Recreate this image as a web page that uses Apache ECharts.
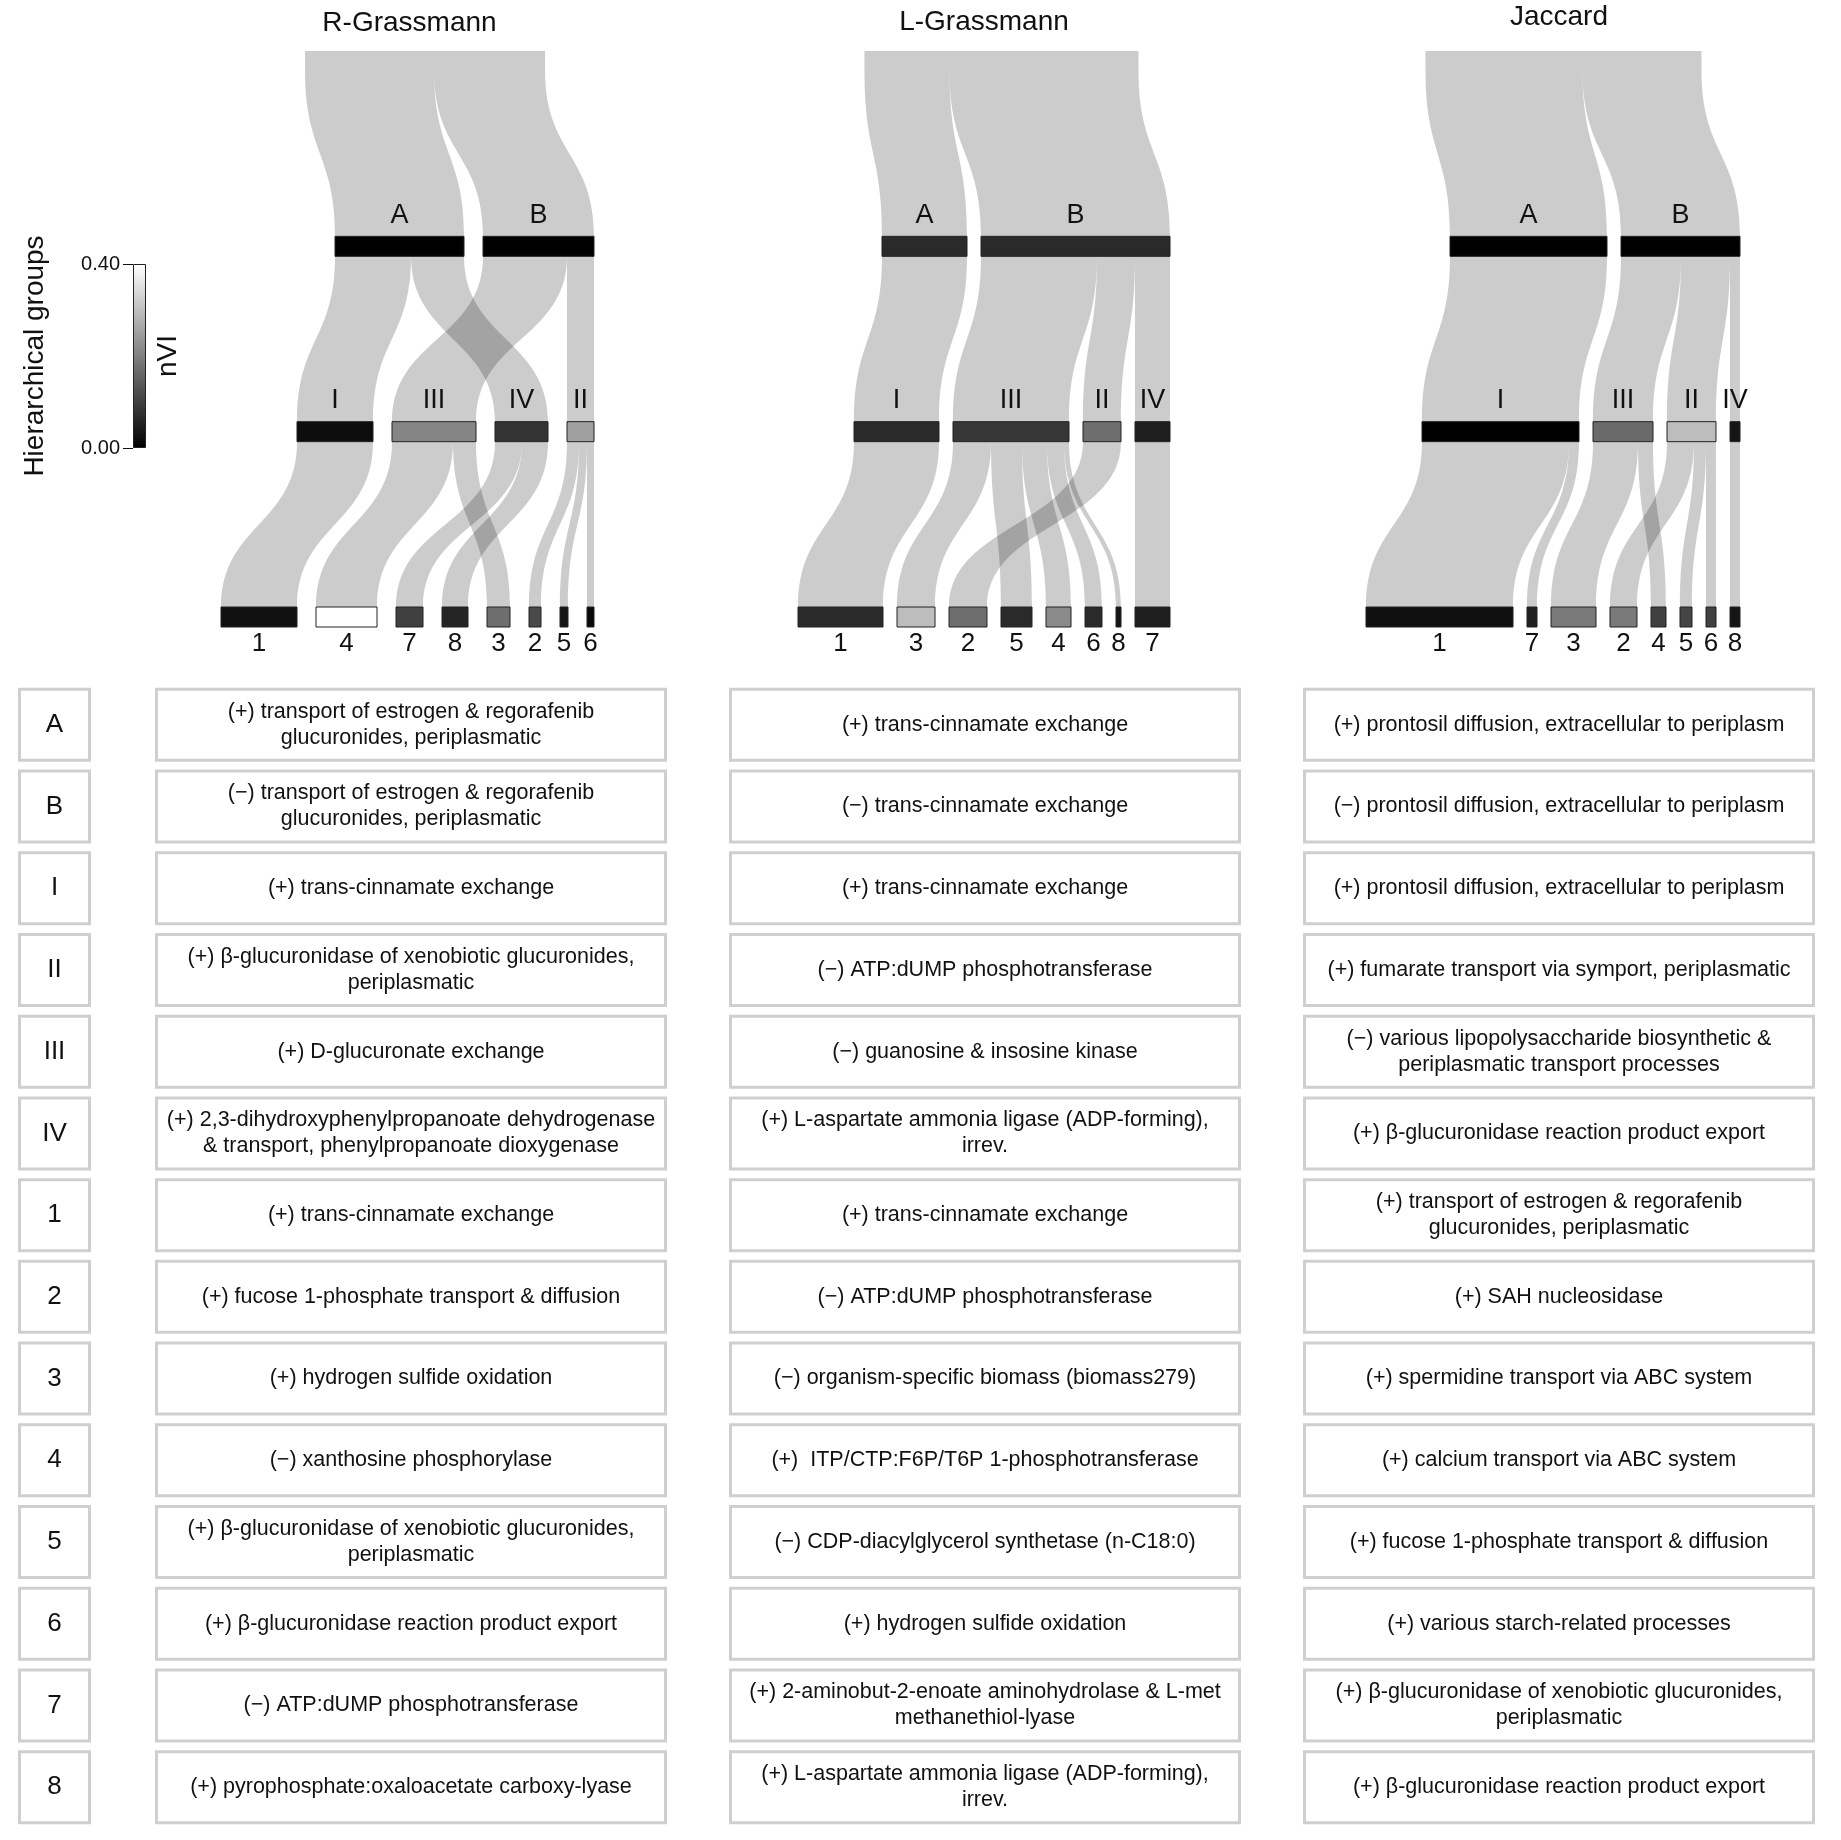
<!DOCTYPE html>
<html>
<head>
<meta charset="utf-8">
<script src="https://cdn.jsdelivr.net/npm/echarts@6/dist/echarts.min.js"></script>
<style>
html,body{margin:0;padding:0;background:#ffffff;}
#chart{width:1841px;height:1840px;}
</style>
</head>
<body>
<div id="chart"></div>
<script>
// ---------------- DATA ----------------
const panelTitles = ['R-Grassmann', 'L-Grassmann', 'Jaccard'];

// R-Grassmann
const rgLevel1 = ['A', 'B'];
const rgNVI1 = [0.000, 0.000];
const rgLevel2 = ['I', 'III', 'IV', 'II'];
const rgNVI2 = [0.020, 0.209, 0.080, 0.251];
const rgLevel3 = ['1', '4', '7', '8', '3', '2', '5', '6'];
const rgNVI3 = [0.027, 0.400, 0.100, 0.058, 0.173, 0.116, 0.033, 0.016];
const rgFlows12 = [['A', 'I', 76], ['A', 'IV', 53], ['B', 'III', 84], ['B', 'II', 27]];
const rgFlows23 = [['I', '1', 76], ['III', '4', 61], ['III', '3', 23], ['IV', '7', 27], ['IV', '8', 26], ['II', '2', 12], ['II', '5', 8], ['II', '6', 7]];

// L-Grassmann
const lgLevel1 = ['A', 'B'];
const lgNVI1 = [0.066, 0.066];
const lgLevel2 = ['I', 'III', 'II', 'IV'];
const lgNVI2 = [0.066, 0.085, 0.173, 0.047];
const lgLevel3 = ['1', '3', '2', '5', '4', '6', '8', '7'];
const lgNVI3 = [0.066, 0.296, 0.173, 0.066, 0.216, 0.066, 0.033, 0.047];
const lgFlows12 = [['A', 'I', 85], ['B', 'III', 116], ['B', 'II', 38], ['B', 'IV', 35]];
const lgFlows23 = [['I', '1', 85], ['III', '3', 38], ['III', '5', 31], ['III', '4', 25], ['III', '6', 17], ['III', '8', 5], ['II', '2', 38], ['IV', '7', 35]];

// Jaccard
const jcLevel1 = ['A', 'B'];
const jcNVI1 = [0.000, 0.000];
const jcLevel2 = ['I', 'III', 'II', 'IV'];
const jcNVI2 = [0.000, 0.166, 0.296, 0.031];
const jcLevel3 = ['1', '7', '3', '2', '4', '5', '6', '8'];
const jcNVI3 = [0.024, 0.050, 0.191, 0.191, 0.100, 0.108, 0.100, 0.033];
const jcFlows12 = [['A', 'I', 157], ['B', 'III', 60], ['B', 'II', 49], ['B', 'IV', 10]];
const jcFlows23 = [['I', '1', 147], ['I', '7', 10], ['III', '3', 45], ['III', '4', 15], ['II', '2', 27], ['II', '5', 12], ['II', '6', 10], ['IV', '8', 10]];

// colour scale (nVI)
const nviRange = [0.00, 0.40];
const colorbarTitle = 'nVI';
const sideTitle = 'Hierarchical groups';

// table
const rowLabels = ['A', 'B', 'I', 'II', 'III', 'IV', '1', '2', '3', '4', '5', '6', '7', '8'];
const rgDesc = [
  '(+) transport of estrogen & regorafenib\nglucuronides, periplasmatic',
  '(\u2212) transport of estrogen & regorafenib\nglucuronides, periplasmatic',
  '(+) trans-cinnamate exchange',
  '(+) \u03b2-glucuronidase of xenobiotic glucuronides,\nperiplasmatic',
  '(+) D-glucuronate exchange',
  '(+) 2,3-dihydroxyphenylpropanoate dehydrogenase\n& transport, phenylpropanoate dioxygenase',
  '(+) trans-cinnamate exchange',
  '(+) fucose 1-phosphate transport & diffusion',
  '(+) hydrogen sulfide oxidation',
  '(\u2212) xanthosine phosphorylase',
  '(+) \u03b2-glucuronidase of xenobiotic glucuronides,\nperiplasmatic',
  '(+) \u03b2-glucuronidase reaction product export',
  '(\u2212) ATP:dUMP phosphotransferase',
  '(+) pyrophosphate:oxaloacetate carboxy-lyase'
];
const lgDesc = [
  '(+) trans-cinnamate exchange',
  '(\u2212) trans-cinnamate exchange',
  '(+) trans-cinnamate exchange',
  '(\u2212) ATP:dUMP phosphotransferase',
  '(\u2212) guanosine & insosine kinase',
  '(+) L-aspartate ammonia ligase (ADP-forming),\nirrev.',
  '(+) trans-cinnamate exchange',
  '(\u2212) ATP:dUMP phosphotransferase',
  '(\u2212) organism-specific biomass (biomass279)',
  '(+)  ITP/CTP:F6P/T6P 1-phosphotransferase',
  '(\u2212) CDP-diacylglycerol synthetase (n-C18:0)',
  '(+) hydrogen sulfide oxidation',
  '(+) 2-aminobut-2-enoate aminohydrolase & L-met\nmethanethiol-lyase',
  '(+) L-aspartate ammonia ligase (ADP-forming),\nirrev.'
];
const jcDesc = [
  '(+) prontosil diffusion, extracellular to periplasm',
  '(\u2212) prontosil diffusion, extracellular to periplasm',
  '(+) prontosil diffusion, extracellular to periplasm',
  '(+) fumarate transport via symport, periplasmatic',
  '(\u2212) various lipopolysaccharide biosynthetic &\nperiplasmatic transport processes',
  '(+) \u03b2-glucuronidase reaction product export',
  '(+) transport of estrogen & regorafenib\nglucuronides, periplasmatic',
  '(+) SAH nucleosidase',
  '(+) spermidine transport via ABC system',
  '(+) calcium transport via ABC system',
  '(+) fucose 1-phosphate transport & diffusion',
  '(+) various starch-related processes',
  '(+) \u03b2-glucuronidase of xenobiotic glucuronides,\nperiplasmatic',
  '(+) \u03b2-glucuronidase reaction product export'
];

// ---------------- LAYOUT / STYLE ----------------
const FONT = '"Liberation Sans", Arial, Helvetica, sans-serif';
const NODE_T = 20;
const panels = [
  { level1: rgLevel1, nvi1: rgNVI1, level2: rgLevel2, nvi2: rgNVI2, level3: rgLevel3, nvi3: rgNVI3, flows12: rgFlows12, flows23: rgFlows23, gap: 19, rootFrac: 0.547, left: 221, titleDx: 2, titleTop: 9 },
  { level1: lgLevel1, nvi1: lgNVI1, level2: lgLevel2, nvi2: lgNVI2, level3: lgLevel3, nvi3: lgNVI3, flows12: lgFlows12, flows23: lgFlows23, gap: 14, rootFrac: 0.547, left: 798, titleDx: 0, titleTop: 8 },
  { level1: jcLevel1, nvi1: jcNVI1, level2: jcLevel2, nvi2: jcNVI2, level3: jcLevel3, nvi3: jcNVI3, flows12: jcFlows12, flows23: jcFlows23, gap: 14, rootFrac: 0.528, left: 1366, titleDx: 6, titleTop: 3 }
];
const SANKEY_TOP = 51, SANKEY_H = 556;
const COL_X = [0, 137, 711, 1285];
const COL_W = [73, 512, 512, 512];
const BOX_H = 74;

function layoutPanel(p) {
  const size = {};
  const add = (k, v) => { size[k] = (size[k] || 0) + v; };
  p.flows12.forEach(f => { add(f[0], f[2]); add(f[1], f[2]); });
  p.flows23.forEach(f => { add(f[1], f[2]); });
  const total = p.level1.reduce((a, n) => a + size[n], 0);
  const xmax = total + (p.level3.length - 1) * p.gap;
  const pos = {};
  const nodes = [];
  const rc = p.rootFrac * xmax;
  pos.root = [rc - total / 2, rc + total / 2];
  nodes.push({ name: '', value: [pos.root[0], pos.root[1], 0, -1] });
  [[p.level1, p.nvi1], [p.level2, p.nvi2], [p.level3, p.nvi3]].forEach(([names, nvi], li) => {
    let cur = xmax;
    for (let i = names.length - 1; i >= 0; i--) {
      pos[names[i]] = [cur - size[names[i]], cur];
      cur -= size[names[i]] + p.gap;
    }
    names.forEach((n, i) => nodes.push({ name: n, value: [pos[n][0], pos[n][1], li + 1, nvi[i]] }));
  });
  const rootFlows = p.level1.map(n => ['root', n, size[n]]);
  const flows = [];
  [[rootFlows, 0], [p.flows12, 1], [p.flows23, 2]].forEach(([list, lvl]) => {
    const sOff = new Map(), tOff = new Map();
    const accS = {}, accT = {};
    list.slice().sort((a, b) => pos[a[1]][0] - pos[b[1]][0]).forEach(f => {
      const a = accS[f[0]] || 0; sOff.set(f, pos[f[0]][0] + a); accS[f[0]] = a + f[2];
    });
    list.slice().sort((a, b) => pos[a[0]][0] - pos[b[0]][0]).forEach(f => {
      const a = accT[f[1]] || 0; tOff.set(f, pos[f[1]][0] + a); accT[f[1]] = a + f[2];
    });
    list.forEach(f => flows.push({ value: [sOff.get(f), sOff.get(f) + f[2], lvl, tOff.get(f), tOff.get(f) + f[2]] }));
  });
  return { xmax, nodes, flows };
}

function greyOf(v) {
  const g = Math.round(Math.max(0, Math.min(1, (v - nviRange[0]) / (nviRange[1] - nviRange[0]))) * 255);
  return 'rgb(' + g + ',' + g + ',' + g + ')';
}

function renderFlow(params, api) {
  const lvl = api.value(2);
  const s0 = api.coord([api.value(0), lvl]);
  const s1 = api.coord([api.value(1), lvl]);
  const t0 = api.coord([api.value(3), lvl + 1]);
  const t1 = api.coord([api.value(4), lvl + 1]);
  const y1 = s0[1] + NODE_T, y2 = t0[1], my = (y1 + y2) / 2;
  const d = 'M' + s0[0] + ',' + y1 +
    ' C' + s0[0] + ',' + my + ' ' + t0[0] + ',' + my + ' ' + t0[0] + ',' + y2 +
    ' L' + t1[0] + ',' + y2 +
    ' C' + t1[0] + ',' + my + ' ' + s1[0] + ',' + my + ' ' + s1[0] + ',' + y1 + ' Z';
  return { type: 'path', shape: { pathData: d }, style: { fill: 'rgba(0,0,0,0.2)' } };
}

function makeNodeRenderer(nodes) {
  return function (params, api) {
    const lvl = api.value(2);
    const p0 = api.coord([api.value(0), lvl]);
    const p1 = api.coord([api.value(1), lvl]);
    const name = nodes[params.dataIndex].name;
    const children = [];
    if (lvl === 0) {
      children.push({ type: 'rect', shape: { x: p0[0], y: p0[1], width: p1[0] - p0[0], height: NODE_T + 0.5 }, style: { fill: '#cccccc' } });
    } else {
      let c = api.visual('color');
      if (!c) c = greyOf(api.value(3));
      children.push({ type: 'rect', shape: { x: p0[0], y: p0[1], width: p1[0] - p0[0], height: NODE_T }, style: { fill: c, stroke: '#222222', lineWidth: 1 } });
      const cx = (p0[0] + p1[0]) / 2;
      if (lvl < 3) {
        children.push({ type: 'text', x: cx, y: p0[1] - 21, style: { text: name, fill: '#111', fontSize: 27, fontFamily: FONT, align: 'center', verticalAlign: 'middle' } });
      } else {
        children.push({ type: 'text', x: cx, y: p0[1] + NODE_T + 17, style: { text: name, fill: '#111', fontSize: 26, fontFamily: FONT, align: 'center', verticalAlign: 'middle' } });
      }
    }
    return { type: 'group', children };
  };
}

const descCols = [rgDesc, lgDesc, jcDesc];
const tableData = [];
rowLabels.forEach((r, ri) => { for (let c = 0; c < 4; c++) tableData.push([c, ri]); });

function renderCell(params, api) {
  const c = api.value(0), r = api.value(1);
  const cs = params.coordSys;
  const cy = api.coord([0, r])[1];
  const x = cs.x + COL_X[c], w = COL_W[c];
  const text = c === 0 ? rowLabels[r] : descCols[c - 1][r];
  return {
    type: 'group', children: [
      { type: 'rect', shape: { x: x + 1.5, y: cy - BOX_H / 2 + 1.5, width: w - 3, height: BOX_H - 3 }, style: { fill: '#ffffff', stroke: '#cfcfcf', lineWidth: 3 } },
      { type: 'text', x: x + w / 2, y: cy, style: { text: text, fill: '#111', fontSize: c === 0 ? 26 : 21.5, fontFamily: FONT, align: 'center', verticalAlign: 'middle', lineHeight: 26 } }
    ]
  };
}

// ---------------- OPTION ----------------
const grid = [], xAxis = [], yAxis = [], series = [], title = [];
const nodeSeriesIdx = [];
panels.forEach((p, i) => {
  const L = layoutPanel(p);
  grid.push({ left: p.left, top: SANKEY_TOP, width: L.xmax, height: SANKEY_H });
  xAxis.push({ gridIndex: i, type: 'value', min: 0, max: L.xmax, show: false });
  yAxis.push({ gridIndex: i, type: 'value', min: 0, max: 3, inverse: true, show: false });
  title.push({ text: panelTitles[i], left: p.left + L.xmax / 2 + p.titleDx, top: p.titleTop, textAlign: 'center', padding: 0,
    textStyle: { fontSize: 28, fontWeight: 'normal', color: '#111', fontFamily: FONT } });
  series.push({ type: 'custom', xAxisIndex: i, yAxisIndex: i, data: L.flows, renderItem: renderFlow, clip: false, silent: true, z: 1, encode: { x: [0, 1, 3, 4], y: 2 } });
  nodeSeriesIdx.push(series.length);
  series.push({ type: 'custom', xAxisIndex: i, yAxisIndex: i, data: L.nodes, renderItem: makeNodeRenderer(L.nodes), clip: false, silent: true, z: 2, encode: { x: [0, 1], y: 2 } });
});

// colour bar
grid.push({ left: 133, top: 264, width: 13, height: 184 });
xAxis.push({ gridIndex: 3, type: 'category', data: [''], show: false });
yAxis.push({
  gridIndex: 3, type: 'value', min: nviRange[0], max: nviRange[1], interval: nviRange[1], position: 'left',
  axisLine: { show: false }, splitLine: { show: false },
  axisTick: { show: true, length: 10, lineStyle: { color: '#111', width: 1 } },
  axisLabel: { formatter: v => v.toFixed(2), fontSize: 20, color: '#111', fontFamily: FONT, margin: 13 },
  name: sideTitle, nameLocation: 'middle', nameRotate: 90, nameGap: 84,
  nameTextStyle: { fontSize: 28, color: '#111', fontFamily: FONT }
});
yAxis.push({
  gridIndex: 3, type: 'value', min: nviRange[0], max: nviRange[1], position: 'right',
  axisLine: { show: false }, axisTick: { show: false }, axisLabel: { show: false }, splitLine: { show: false },
  name: colorbarTitle, nameLocation: 'middle', nameRotate: 90, nameGap: 8,
  nameTextStyle: { fontSize: 28, color: '#111', fontFamily: FONT }
});
series.push({
  type: 'bar', xAxisIndex: 3, yAxisIndex: 3, data: [nviRange[1]], barWidth: '100%', silent: true,
  itemStyle: {
    color: { type: 'linear', x: 0, y: 0, x2: 0, y2: 1, colorStops: [{ offset: 0, color: greyOf(nviRange[1]) }, { offset: 1, color: greyOf(nviRange[0]) }] },
    borderColor: '#222', borderWidth: 1
  }
});

// table
grid.push({ left: 18, top: 684, width: 1797, height: 1144 });
xAxis.push({ gridIndex: 4, type: 'value', min: 0, max: 1, show: false });
yAxis.push({ gridIndex: 4, type: 'category', data: rowLabels, inverse: true, show: false });
series.push({ type: 'custom', xAxisIndex: 4, yAxisIndex: 5, data: tableData, renderItem: renderCell, clip: false, silent: true, encode: { x: 0, y: 1 } });

const option = {
  backgroundColor: '#ffffff',
  animation: false,
  title: title,
  grid: grid,
  xAxis: xAxis,
  yAxis: yAxis,
  visualMap: {
    type: 'continuous', show: false, min: nviRange[0], max: nviRange[1], dimension: 3,
    seriesIndex: nodeSeriesIdx, inRange: { color: [greyOf(nviRange[0]), greyOf(nviRange[1])] },
    outOfRange: { color: '#cccccc' }
  },
  series: series
};

const chart = echarts.init(document.getElementById('chart'), null, { renderer: 'canvas' });
chart.setOption(option);
</script>
</body>
</html>
